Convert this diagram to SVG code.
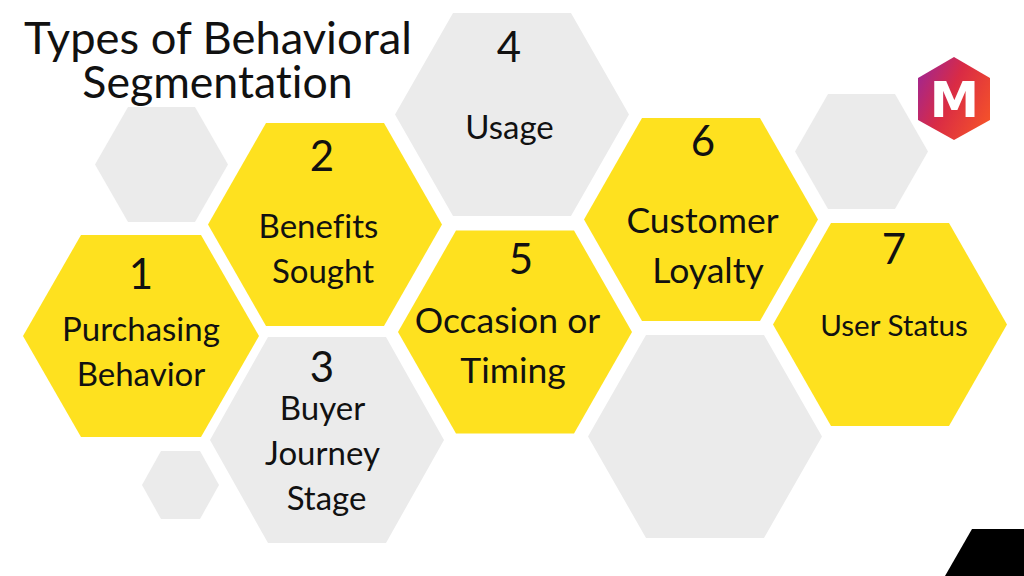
<svg xmlns="http://www.w3.org/2000/svg" width="1024" height="576" viewBox="0 0 1024 576">
<style>
text{font-family:Lato,"Open Sans",sans-serif;fill:#111;text-anchor:middle;font-variant-ligatures:none}
.y{fill:#fee11f}.g{fill:#ebebeb}
.t{font-size:45.300px}.n{font-size:42px}.l{font-size:33px}.m{font-size:35.500px}.s{font-size:29.600px}
</style>
<defs>
<linearGradient id="lg" x1="0" y1="0.2" x2="1" y2="0.75"><stop offset="0" stop-color="#a3268e"/><stop offset="0.45" stop-color="#d92b45"/><stop offset="1" stop-color="#f4512a"/></linearGradient>
<polygon id="hex" points="-117,0 -59,-101.500 59,-101.500 117,0 59,101.500 -59,101.500"/>
</defs>
<rect width="1024" height="576" fill="#fff"/>
<g id="title"><text class="t" x="218" y="54">Types of Behavioral</text><text class="t" x="217.500" y="98" style="font-size:44.600px">Segmentation</text></g>
<g id="deco-1"><polygon class="g" points="95,164.500 128,107 195,107 228,164.500 195,222 128,222"/></g>
<g id="deco-2"><polygon class="g" points="795,151.500 828,94 895,94 928,151.500 895,209 828,209"/></g>
<g id="deco-3"><polygon class="g" points="142,485 161,451 200,451 219,485 200,519 161,519"/></g>
<g id="deco-4"><use href="#hex" class="g" x="705" y="436.500"/></g>
<g id="node-1"><polygon class="y" points="23,336 81,235 201,235 259,336 201,437 81,437"/><text class="n" x="141" y="289">1</text><text class="l" x="141" y="341">Purchasing</text><text class="l" x="141" y="386">Behavior</text></g>
<g id="node-3"><polygon class="g" points="210,440 268,337 386,337 444,440 386,543 268,543"/><text class="n" x="322" y="382">3</text><text class="l" x="322.500" y="420">Buyer</text><text class="l" x="322.500" y="465">Journey</text><text class="l" x="326.500" y="510">Stage</text></g>
<g id="node-2"><use href="#hex" class="y" x="325" y="224.500"/><text class="n" x="322" y="171">2</text><text class="l" x="318.500" y="238">Benefits</text><text class="l" x="323" y="283">Sought</text></g>
<g id="node-4"><use href="#hex" class="g" x="512" y="114.500"/><text class="n" x="509" y="62">4</text><text class="l" x="509.500" y="139">Usage</text></g>
<g id="node-5"><use href="#hex" class="y" x="515" y="332"/><text class="n" x="521" y="274">5</text><text class="m" x="507.500" y="333">Occasion or</text><text class="m" x="513" y="383">Timing</text></g>
<g id="node-6"><use href="#hex" class="y" x="701" y="219.500"/><text class="n" x="703" y="156">6</text><text class="m" x="702.500" y="233">Customer</text><text class="m" x="708" y="283">Loyalty</text></g>
<g id="node-7"><use href="#hex" class="y" x="890" y="324.500"/><text class="n" x="894" y="264">7</text><text class="s" x="894" y="336">User Status</text></g>
<g id="logo"><polygon fill="url(#lg)" points="954,57 990,78 990,120 954,140 918,120 918,78"/><text x="954.500" y="117" style="font-family:'DejaVu Sans',sans-serif;font-weight:700;font-size:49.500px;fill:#fff">M</text></g>
<g id="corner"><polygon fill="#000" points="972,529 1024,529 1024,576 945,576"/></g>
<g id="connectors"></g>
</svg>
